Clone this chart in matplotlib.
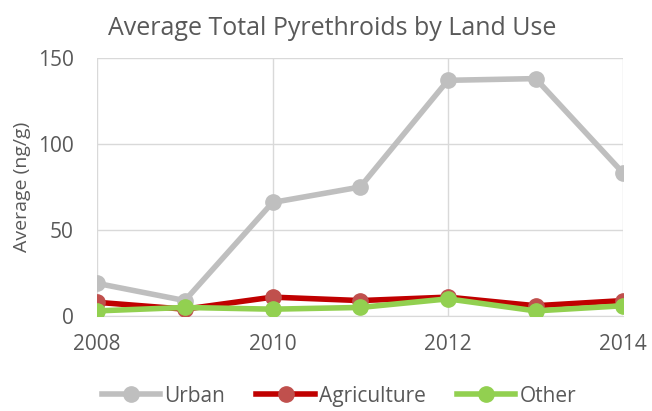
import numpy as np
import matplotlib.pyplot as plt

years = [2008, 2009, 2010, 2011, 2012, 2013, 2014]
urban = [19, 9, 66, 75, 137, 138, 83]
agriculture = [8, 4, 11, 9, 11, 6, 9]
other = [3, 5, 4, 5, 10, 3, 6]

plt.rcParams['font.family'] = ['Open Sans', 'DejaVu Sans']

fig = plt.figure(figsize=(6.52, 4.11), dpi=100)
ax = fig.add_axes([0.149, 0.231, 0.807, 0.628])

ax.plot(years, urban, color="#BFBFBF", lw=4, marker="o", ms=11,
        mfc="#BFBFBF", mec="#BFBFBF", label="Urban", zorder=3)
ax.plot(years, agriculture, color="#C00000", lw=4, marker="o", ms=11,
        mfc="#C0504D", mec="#C0504D", label="Agriculture", zorder=4)
ax.plot(years, other, color="#92D050", lw=4, marker="o", ms=11,
        mfc="#92D050", mec="#92D050", label="Other", zorder=5)

ax.set_xlim(2008, 2014)
ax.set_ylim(0, 150)
ax.set_xticks([2008, 2010, 2012, 2014])
ax.set_yticks([0, 50, 100, 150])
ax.grid(True, color="#D9D9D9", lw=1)
ax.set_axisbelow(True)
for s in ["top", "right", "left"]:
    ax.spines[s].set_visible(False)
ax.spines["bottom"].set_color("#D9D9D9")
ax.tick_params(length=0, labelsize=15, colors="#595959")
ax.tick_params(axis="x", pad=13)
ax.tick_params(axis="y", pad=17)

ax.set_ylabel("Average (ng/g)", fontsize=14, color="#595959")
ax.yaxis.set_label_coords(-0.125, 0.5)
fig.suptitle("Average Total Pyrethroids by Land Use", fontsize=18,
             color="#595959", x=0.509, y=0.93, va="center")

fig.legend(*ax.get_legend_handles_labels(), loc="center",
           bbox_to_anchor=(0.52, 0.036), ncol=3, frameon=False,
           fontsize=15, labelcolor="#595959", handlelength=2.8,
           columnspacing=1.5, handletextpad=0.2)

fig.savefig("out.png", dpi=100)
